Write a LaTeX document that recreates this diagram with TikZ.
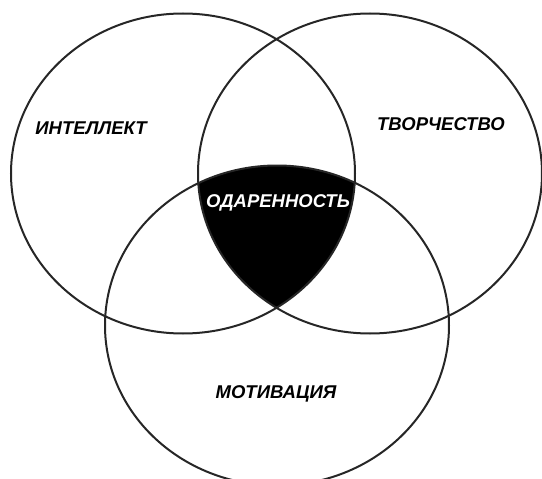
\documentclass[tikz,border=0pt]{standalone}
\usepackage{fontspec}
\newfontfamily\vennfont{Liberation Sans}
\usetikzlibrary{positioning}

\begin{document}
\begin{tikzpicture}[x=1pt, y=1pt,
  setline/.style={line width=2pt, black!85},
  setlabel/.style={font=\vennfont\bfseries\itshape\fontsize{18.5}{20}\selectfont,
                   inner sep=0pt},
  corelabel/.style={setlabel, text=white},
]
\clip (0,0) rectangle (542,-479);
\def\vennrx{172pt}
\def\vennry{160pt}
\coordinate (cIntel) at (183,-173.5);
\coordinate (cTvor)  at (370,-173.5);
\coordinate (cMotiv) at (277,-325.5);

% core: all three sets
\begin{scope}
  \clip (cIntel) ellipse [x radius=\vennrx, y radius=\vennry];
  \clip (cTvor)  ellipse [x radius=\vennrx, y radius=\vennry];
  \fill[black] (cMotiv) ellipse [x radius=\vennrx, y radius=\vennry];
\end{scope}

\draw[setline] (cIntel) ellipse [x radius=\vennrx, y radius=\vennry];
\draw[setline] (cTvor)  ellipse [x radius=\vennrx, y radius=\vennry];
\draw[setline] (cMotiv) ellipse [x radius=\vennrx, y radius=\vennry];

\node[setlabel]  (intel) at (91,-128)  {ИНТЕЛЛЕКТ};
\node[setlabel]  (tvor)  at (441,-124) {ТВОРЧЕСТВО};
\node[corelabel] (odar)  at (278,-203) {ОДАРЕННОСТЬ};
\node[setlabel]  (motiv) at (276,-394) {МОТИВАЦИЯ};
\end{tikzpicture}
\end{document}
